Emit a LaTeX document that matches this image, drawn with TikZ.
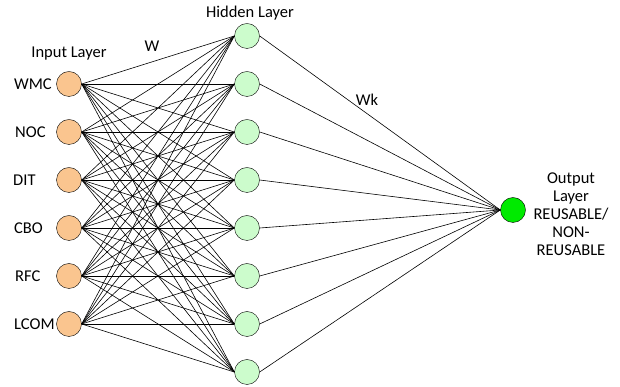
\documentclass[tikz,border=0pt]{standalone}
\usepackage{fontspec}
\setmainfont{Carlito}
\definecolor{inorange}{HTML}{FAC58F}
\definecolor{hidgreen}{HTML}{CCFCCC}
\definecolor{outgreen}{HTML}{00EA00}
\begin{document}
\begin{tikzpicture}[x=1pt, y=1pt,
  neuron/.style={circle, draw=black, thin, minimum size=25pt, inner sep=0pt},
  lbl/.style={font=\fontsize{16.5}{18}\selectfont, inner sep=1pt}]
  \useasboundingbox (0,0) rectangle (620,387);

  % input layer
  \foreach \name/\yy/\xl in {WMC/303/13, NOC/255/14, DIT/207/12, CBO/159/13, RFC/111/14, LCOM/63/13} {
    \node[neuron, fill=inorange] (in-\name) at (69,\yy) {};
    \node[lbl, anchor=west] (lab-\name) at (\xl,\yy) {\name};
  }

  % hidden layer
  \foreach \k in {1,...,8} {
    \node[neuron, fill=hidgreen] (h-\k) at (247,{399-48*\k}) {};
  }

  % output layer
  \node[neuron, fill=outgreen] (out) at (513,177) {};

  % weights
  \foreach \name in {WMC,NOC,DIT,CBO,RFC,LCOM}
    \foreach \k in {1,...,8}
      \draw[black, line width=0.6pt] (in-\name.east) -- (h-\k.west);
  \foreach \k in {1,...,8}
    \draw[black, line width=0.6pt] (h-\k.east) -- (out.west);

  % captions
  \node[lbl] (cap-in) at (69,333) {Input Layer};
  \node[lbl] (cap-w) at (152,341) {W};
  \node[lbl] (cap-hid) at (250,374) {Hidden Layer};
  \node[lbl] (cap-wk) at (367,287) {Wk};
  \node[lbl, align=center] (cap-out) at (571,173)
    {Output\\Layer\\REUSABLE/\\NON-\\REUSABLE};
\end{tikzpicture}
\end{document}
